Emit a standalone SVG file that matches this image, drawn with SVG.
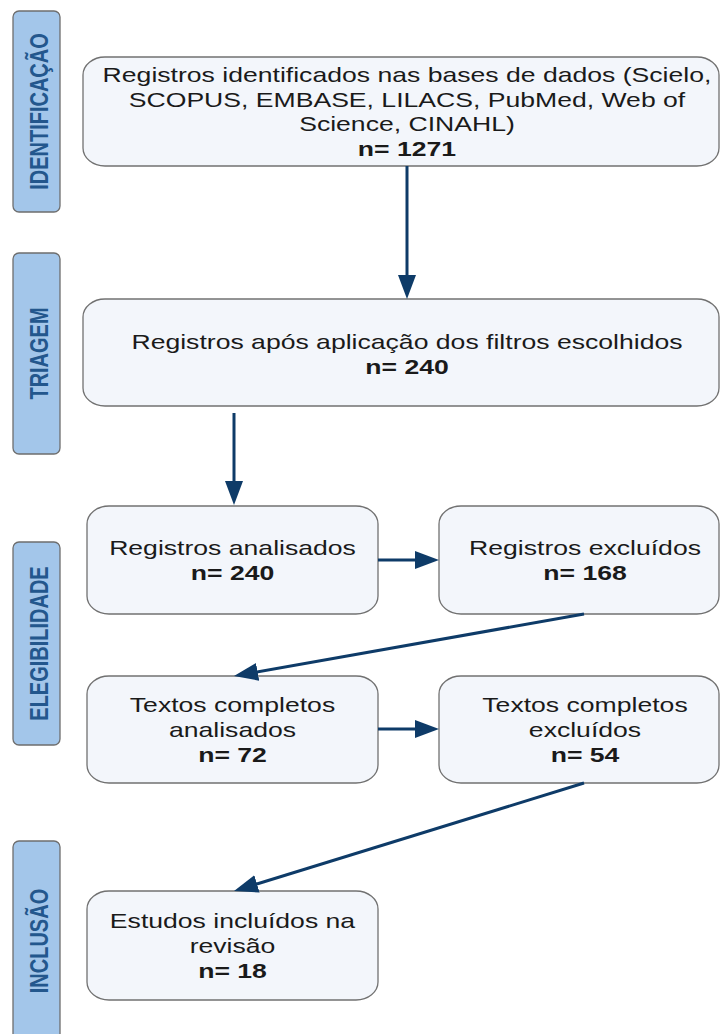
<svg xmlns="http://www.w3.org/2000/svg" width="720" height="1034" viewBox="0 0 720 1034">
<style>
.bar{fill:#a3c6ea;stroke:#6e6e6e;stroke-width:1.3}
.box{fill:#f3f6fb;stroke:#717171;stroke-width:1.3}
.bt{font-family:"Liberation Sans",Arial,sans-serif;font-weight:bold;font-size:20px;fill:#23578d;text-anchor:middle}
.t{font-family:"Liberation Sans",Arial,sans-serif;font-size:20px;fill:#1a1a1a;text-anchor:middle}
.b{font-weight:bold}
.c{stroke:#0e3b68;stroke-width:3;fill:none;marker-end:url(#ah)}
</style>
<defs>
<marker id="ah" markerUnits="userSpaceOnUse" markerWidth="26" markerHeight="20" refX="12" refY="9" orient="auto">
<path d="M0,0 L24,9 L0,18 z" fill="#0e3b68"/>
</marker>
</defs>
<rect width="720" height="1034" fill="#ffffff"/>

<g id="stage-identificacao">
<rect class="bar" x="13" y="11" width="47" height="201" rx="6"/>
<text class="bt" transform="translate(47.5,111.5) scale(1.33,1) rotate(-90)">IDENTIFICAÇÃO</text>
</g>
<g id="stage-triagem">
<rect class="bar" x="13" y="253" width="47" height="201" rx="6"/>
<text class="bt" transform="translate(47.5,353.5) scale(1.33,1) rotate(-90)">TRIAGEM</text>
</g>
<g id="stage-elegibilidade">
<rect class="bar" x="13" y="542" width="47" height="203" rx="6"/>
<text class="bt" transform="translate(47.5,643.5) scale(1.33,1) rotate(-90)">ELEGIBILIDADE</text>
</g>
<g id="stage-inclusao">
<rect class="bar" x="13" y="841" width="47" height="200" rx="6"/>
<text class="bt" transform="translate(47.5,941) scale(1.33,1) rotate(-90)">INCLUSÃO</text>
</g>

<g id="n-identificados">
<rect class="box" x="83" y="57" width="636" height="109" rx="22" ry="18"/>
<text class="t" transform="translate(407,82) scale(1.33,1)">Registros identificados nas bases de dados (Scielo,</text>
<text class="t" transform="translate(407,106.7) scale(1.33,1)">SCOPUS, EMBASE, LILACS, PubMed, Web of</text>
<text class="t" transform="translate(407,131.4) scale(1.33,1)">Science, CINAHL)</text>
<text class="t b" transform="translate(407,156) scale(1.33,1)">n= 1271</text>
</g>

<g id="n-filtros">
<rect class="box" x="83" y="299" width="636" height="107" rx="22" ry="18"/>
<text class="t" transform="translate(407,348.5) scale(1.33,1)">Registros após aplicação dos filtros escolhidos</text>
<text class="t b" transform="translate(407,373.5) scale(1.33,1)">n= 240</text>
</g>

<g id="n-analisados">
<rect class="box" x="87" y="506" width="291" height="108" rx="22" ry="18"/>
<text class="t" transform="translate(232.5,555) scale(1.33,1)">Registros analisados</text>
<text class="t b" transform="translate(232.5,580) scale(1.33,1)">n= 240</text>
</g>

<g id="n-excluidos">
<rect class="box" x="439" y="506" width="280" height="108" rx="22" ry="18"/>
<text class="t" transform="translate(585,555) scale(1.33,1)">Registros excluídos</text>
<text class="t b" transform="translate(585,580) scale(1.33,1)">n= 168</text>
</g>

<g id="n-textos-analisados">
<rect class="box" x="87" y="676" width="291" height="107" rx="22" ry="18"/>
<text class="t" transform="translate(232.5,712) scale(1.33,1)">Textos completos</text>
<text class="t" transform="translate(232.5,737) scale(1.33,1)">analisados</text>
<text class="t b" transform="translate(232.5,762) scale(1.33,1)">n= 72</text>
</g>

<g id="n-textos-excluidos">
<rect class="box" x="439" y="676" width="280" height="107" rx="22" ry="18"/>
<text class="t" transform="translate(585,712) scale(1.33,1)">Textos completos</text>
<text class="t" transform="translate(585,737) scale(1.33,1)">excluídos</text>
<text class="t b" transform="translate(585,762) scale(1.33,1)">n= 54</text>
</g>

<g id="n-incluidos">
<rect class="box" x="87" y="891" width="291" height="109" rx="22" ry="18"/>
<text class="t" transform="translate(232.5,928) scale(1.33,1)">Estudos incluídos na</text>
<text class="t" transform="translate(232.5,953) scale(1.33,1)">revisão</text>
<text class="t b" transform="translate(232.5,978) scale(1.33,1)">n= 18</text>
</g>

<g id="connectors">
<line class="c" x1="407" y1="166" x2="407" y2="287"/>
<line class="c" x1="234" y1="413" x2="234" y2="493"/>
<line class="c" x1="378" y1="560" x2="427" y2="560"/>
<line class="c" x1="584" y1="614" x2="245.8" y2="673.9"/>
<line class="c" x1="378" y1="729" x2="427" y2="729"/>
<line class="c" x1="584" y1="783" x2="245.5" y2="887.5"/>
</g>
</svg>
